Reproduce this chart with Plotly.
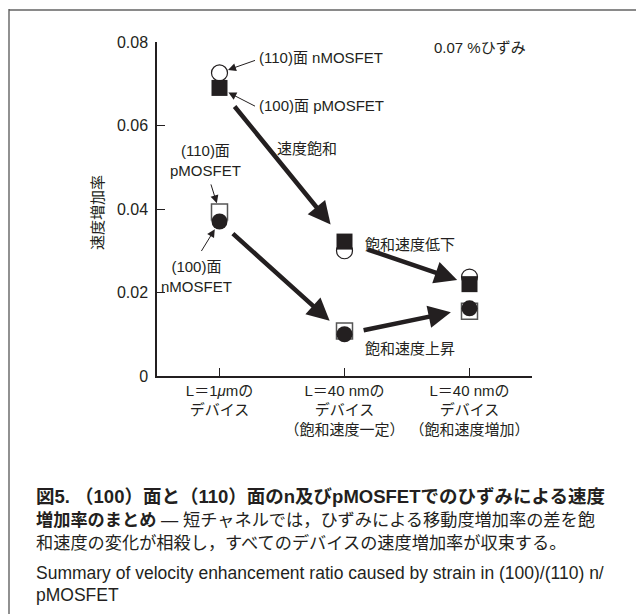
import plotly.graph_objects as go

# Device categories along the x axis
categories = [
    "L＝1<i>μ</i>mの<br>デバイス",
    "L＝40 nmの<br>デバイス<br>（飽和速度一定）",
    "L＝40 nmの<br>デバイス<br>（飽和速度増加）",
]
x_pos = [1, 2, 3]

# Velocity enhancement ratio per device / orientation
n110 = [0.0726, 0.0300, 0.0237]   # (110) nMOSFET, open circle
p100 = [0.0690, 0.0322, 0.0220]   # (100) pMOSFET, filled square
p110 = [0.0393, 0.0108, 0.0155]   # (110) pMOSFET, open square
n100 = [0.0370, 0.0100, 0.0162]   # (100) nMOSFET, filled circle

y_ticks = [0, 0.02, 0.04, 0.06, 0.08]

INK = "#231f20"
SANS = "Liberation Sans, Noto Sans CJK JP, sans-serif"
CJK = "Noto Sans CJK JP, Liberation Sans, sans-serif"

fig = go.Figure()

def add_series(y, symbol, fill, lw, lc):
    fig.add_trace(go.Scatter(
        x=x_pos, y=y, mode="markers", cliponaxis=False, showlegend=False,
        marker=dict(symbol=symbol, size=16, color=fill,
                    line=dict(width=lw, color=lc)),
    ))

add_series(n110, "circle", "white", 1.2, INK)
add_series(p100, "square", INK, 0, INK)
add_series(p110, "square", "white", 1.5, "#555")
add_series(n100, "circle", INK, 0, INK)

annotations = []

# Thick trend arrows between device generations
def trend(series, i, j, s0, s1):
    annotations.append(dict(
        x=x_pos[j], y=series[j], ax=x_pos[i], ay=series[i],
        xref="x", yref="y", axref="x", ayref="y", text="",
        showarrow=True, arrowhead=2, arrowsize=1.0, arrowwidth=4.5,
        arrowcolor=INK, standoff=s1, startstandoff=s0,
    ))

trend(p100, 0, 1, 22, 22)
trend(n100, 0, 1, 16, 20)
trend(p100, 1, 2, 23, 13)
trend(n100, 1, 2, 18, 19)

# Thin pointer arrows from labels to the L=1um markers
def pointer(series, i, dx, dy, s):
    annotations.append(dict(
        x=x_pos[i], y=series[i], ax=dx, ay=dy, xref="x", yref="y", text="",
        showarrow=True, arrowhead=2, arrowsize=1.6, arrowwidth=1,
        arrowcolor=INK, standoff=s,
    ))

pointer(n110, 0, 37, -13, 9)
pointer(p100, 0, 37, 19, 10)
pointer(p110, 0, -9, -29, 9)
pointer(n100, 0, -19, 31, 9)

def label(text, x, y, xanchor="left", size=15, align="left"):
    annotations.append(dict(
        x=x, y=y, xref="x", yref="y", text=text, showarrow=False,
        xanchor=xanchor, yanchor="middle", align=align,
        font=dict(family=SANS, size=size, color=INK),
    ))

label("(110)面 nMOSFET", 1.30, 0.0762)
label("(100)面 pMOSFET", 1.30, 0.0649)
label("速度飽和", 1.444, 0.0546)
label("(110)面<br>pMOSFET", 0.884, 0.0515, xanchor="center", align="center")
label("(100)面<br>nMOSFET", 0.812, 0.0238, xanchor="center", align="center")
label("飽和速度低下", 2.148, 0.0316)
label("飽和速度上昇", 2.148, 0.0065)
label("0.07 %ひずみ", 2.70, 0.0786)

# Axis title
annotations.append(dict(
    x=-0.163, y=0.491, xref="paper", yref="paper", text="速度増加率",
    textangle=-90, showarrow=False, xanchor="center", yanchor="middle",
    font=dict(family=CJK, size=15, color=INK),
))

# Figure caption
def px_x(px):
    return (px - 157) / 375

def px_y(py):
    return (376 - py) / 334

caption = [
    ("<b>図5. （100）面と（110）面のn及びpMOSFETでのひずみによる速度</b>", 496, 18.5),
    ("<b>増加率のまとめ</b> — 短チャネルでは，ひずみによる移動度増加率の差を飽", 520, 17.2),
    ("和速度の変化が相殺し，すべてのデバイスの速度増加率が収束する。", 543, 17.2),
    ("Summary of velocity enhancement ratio caused by strain in (100)/(110) n/", 573, 17.5),
    ("pMOSFET", 595, 17.5),
]
for text, py, size in caption:
    annotations.append(dict(
        x=px_x(34), y=px_y(py), xref="paper", yref="paper", text=text,
        showarrow=False, xanchor="left", yanchor="middle", align="left",
        font=dict(family=SANS, size=size, color=INK),
    ))

# Frame: top and left edges of the panel border
frame = [
    dict(type="line", xref="paper", yref="paper",
         x0=px_x(9), x1=px_x(640), y0=px_y(10), y1=px_y(10),
         line=dict(color="#8a8a8a", width=2)),
    dict(type="line", xref="paper", yref="paper",
         x0=px_x(9), x1=px_x(9), y0=px_y(9), y1=px_y(640),
         line=dict(color="#555555", width=1.3)),
]

fig.update_layout(
    width=636, height=614,
    margin=dict(l=157, r=104, t=42, b=238),
    paper_bgcolor="white", plot_bgcolor="white",
    annotations=annotations,
    shapes=frame,
    xaxis=dict(
        range=[0.5, 3.5], tickvals=x_pos, ticktext=categories,
        showline=True, linecolor=INK, linewidth=1.5, showgrid=False,
        zeroline=False, ticks="inside", ticklen=8, tickcolor=INK,
        tickfont=dict(family=SANS, size=15, color=INK),
    ),
    yaxis=dict(
        range=[0, 0.08], tickvals=y_ticks,
        showline=True, linecolor=INK, linewidth=1.5, showgrid=False,
        zeroline=False, ticks="inside", ticklen=8, tickcolor=INK,
        ticklabelstandoff=4,
        tickfont=dict(family=SANS, size=16, color=INK),
    ),
)

fig.write_html("out.html")
